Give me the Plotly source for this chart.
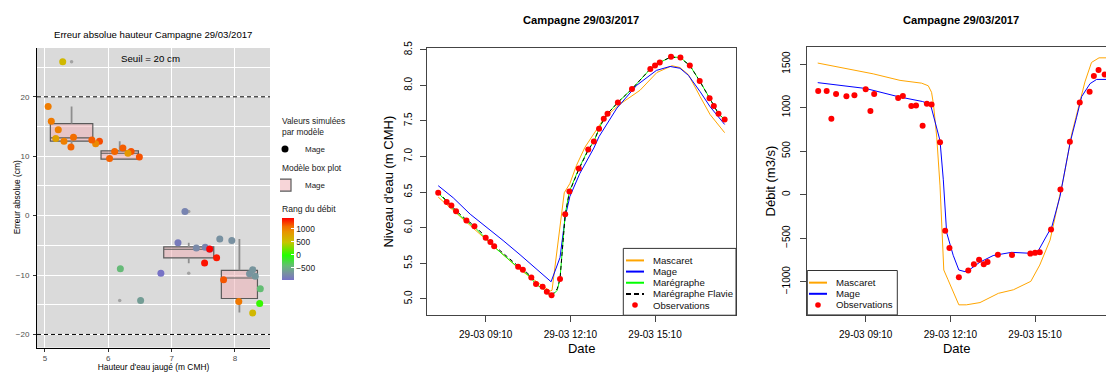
import plotly.graph_objects as go

W, H = 1106, 372
DAY = "2017-03-29 "
FONT = "Liberation Sans, Arial, sans-serif"

# ---------------- observations (campagne du 29/03/2017) ----------------
obs_time = ["07:29", "07:47", "07:57", "08:07", "08:29", "08:46", "09:10", "09:20",
            "09:28", "10:19", "10:29", "10:47", "10:57", "11:11", "11:20", "11:30",
            "11:48", "11:59", "12:08", "12:28", "12:48", "13:00", "13:11", "13:21",
            "13:29", "13:51", "14:21", "15:00", "15:10", "15:20", "15:44", "16:04",
            "16:24", "16:45", "17:06", "17:15", "17:25", "17:38"]
obs_height = [6.49, 6.36, 6.31, 6.23, 6.10, 6.02, 5.86, 5.80, 5.74, 5.45, 5.41, 5.30,
              5.21, 5.17, 5.10, 5.05, 5.28, 6.19, 6.51, 6.83, 7.10, 7.21, 7.39, 7.53,
              7.60, 7.76, 7.95, 8.23, 8.28, 8.32, 8.40, 8.39, 8.28, 8.06, 7.82, 7.71,
              7.60, 7.52]
obs_discharge = [1189, 1189, 871, 1155, 1129, 1140, 1211, 961, 1155, 1110, 1133, 1017,
                 1024, 792, 1043, 1035, 601, -415, -613, -950, -871, -800, -747, -800,
                 -773, -691, -695, -677, -669, -661, -400, 59, 608, 1057, 1181, 1361,
                 1432, 1380]
# Mage - observation, in cm, at each observation time
mage_error_cm = [9.85, 10.8, 10.5, 11.4, 10.8, 9.6, 12.5, 12.1, 12.75, 13.2, 11.55, 12.5,
                 14.45, 13.0, 15.9, 18.35, 25.9, -8.95, -14.3, -9.7, -4.56, 0.7, -5.44,
                 -5.33, -5.66, -3.95, -4.2, -9.77, -9.1, -10.2, -12.3, -14.8, -16.4,
                 -14.45, -10.8, -7.1, -5.6, -7.97]

# ---------------- box plot statistics (Mage) ----------------
box_pos = [5.42, 6.18, 7.27, 8.07]
box_width = [0.67, 0.59, 0.79, 0.57]
box_q1 = [12.55, 9.5, -7.1, -13.95]
box_median = [13.1, 10.5, -5.66, -10.5]
box_q3 = [15.5, 10.9, -5.27, -9.2]
box_low = [11.6, 9.5, -8.0, -16.3]
box_high = [18.35, 12.5, -4.56, -3.95]
outlier_pos = [5.42, 6.18, 7.27, 7.27]
outlier_err = [25.9, -14.3, 0.7, -9.7]

# ---------------- simulated water levels (m CMH) ----------------
mascaret_h_time = ["07:29", "09:12", "10:23", "11:05", "11:27", "11:31", "11:57", "12:09",
                   "12:23", "12:41", "12:59", "13:20", "13:52", "14:38", "15:14", "15:46",
                   "16:03", "16:21", "16:46", "17:07", "17:38"]
mascaret_h = [6.43, 5.82, 5.41, 5.21, 5.11, 5.12, 6.49, 6.62, 6.875, 7.13, 7.31, 7.52,
              7.72, 7.93, 8.18, 8.275, 8.25, 8.15, 7.84, 7.59, 7.335]

mage_h_time = ["07:29", "08:01", "08:37", "09:12", "09:47", "10:23", "10:58", "11:20",
               "11:29", "11:48", "11:59", "12:09", "12:30", "13:00", "13:11", "13:49",
               "14:31", "15:13", "15:42", "16:03", "16:21", "16:46", "17:07", "17:38"]
mage_h = [6.59, 6.42, 6.19, 6.01, 5.82, 5.62, 5.42, 5.29, 5.24, 5.58, 6.15, 6.44, 6.76,
          7.12, 7.28, 7.68, 8.00, 8.21, 8.265, 8.24, 8.14, 7.91, 7.70, 7.45]

maregraphe_time = ["07:29", "07:47", "07:57", "08:07", "08:29", "08:46", "09:10", "09:20",
                   "09:28", "10:19", "10:29", "10:47", "10:57", "11:11", "11:20", "11:30",
                   "11:42", "11:48", "11:59", "12:08", "12:28", "12:48", "13:00", "13:11",
                   "13:21", "13:29", "13:51", "14:21", "15:00", "15:10", "15:20", "15:44",
                   "16:04", "16:24", "16:45", "17:06", "17:15", "17:25", "17:38"]
maregraphe_h = [6.49, 6.36, 6.30, 6.22, 6.09, 6.01, 5.85, 5.79, 5.73, 5.44, 5.40, 5.29,
                5.20, 5.15, 5.08, 5.04, 5.12, 5.28, 6.19, 6.51, 6.83, 7.10, 7.21, 7.39,
                7.53, 7.60, 7.76, 7.95, 8.23, 8.28, 8.32, 8.40, 8.39, 8.28, 8.06, 7.82,
                7.71, 7.60, 7.52]
flavie_h = [6.50, 6.37, 6.31, 6.24, 6.11, 6.03, 5.87, 5.81, 5.75, 5.46, 5.42, 5.31,
            5.22, 5.17, 5.10, 5.05, 5.14, 5.28, 6.18, 6.50, 6.82, 7.09, 7.21, 7.39,
            7.52, 7.60, 7.76, 7.95, 8.23, 8.28, 8.32, 8.40, 8.38, 8.28, 8.06, 7.82,
            7.71, 7.60, 7.52]

# ---------------- simulated discharge (m3/s) ----------------
mascaret_q_time = ["07:28", "08:16", "09:26", "10:23", "11:09", "11:23", "11:30", "11:34",
                   "11:41", "11:48", "11:52", "11:56", "12:05", "12:28", "12:44", "13:13",
                   "13:52", "14:24", "15:01", "15:20", "15:42", "16:03", "16:10", "16:28",
                   "16:46", "16:56", "17:10", "17:26", "17:41"]
mascaret_q = [1511, 1462, 1387, 1312, 1280, 1250, 1175, 1040, 660, 100, -390, -866, -978,
              -1266, -1266, -1240, -1134, -1093, -996, -809, -522, -22, 173, 697, 1069,
              1294, 1518, 1571, 1571]

mage_q_time = ["07:28", "09:10", "10:19", "11:11", "11:28", "11:48", "11:55", "12:02",
               "12:16", "12:28", "12:41", "12:52", "13:13", "13:41", "14:20", "15:00",
               "15:17", "15:46", "16:03", "16:25", "16:38", "16:49", "17:07", "17:21",
               "17:41"]
mage_q = [1286, 1219, 1125, 1069, 1031, 619, 170, -435, -697, -866, -885, -858, -775,
          -700, -663, -674, -644, -363, -22, 608, 882, 1125, 1275, 1323, 1323]

date_ticks = ["09:10", "12:10", "15:10"]
level_ticks = [5.0, 5.5, 6.0, 6.5, 7.0, 7.5, 8.0, 8.5]
discharge_ticks = [-1000, -500, 0, 500, 1000, 1500]
error_ticks = [-20, -10, 0, 10, 20]
height_ticks = [5, 6, 7, 8]
rank_ticks = [-500, 0, 500, 1000]

level_legend = ["Mascaret", "Mage", "Marégraphe", "Marégraphe Flavie", "Observations"]
discharge_legend = ["Mascaret", "Mage", "Observations"]

COLORS = {"Mascaret": "#FFA500", "Mage": "#0000FF", "Marégraphe": "#00FF00",
          "Marégraphe Flavie": "black", "Observations": "#FF0000"}


def stamp(times):
    return [DAY + t for t in times]


def px_x(p):
    return p / W


def px_y(p):
    return 1 - p / H


rank_scale = [[0.0, "#7772c6"], [0.105, "#7990a2"], [0.227, "#66bb77"],
              [0.399, "#22ff00"], [0.609, "#c8c400"], [0.777, "#e89400"],
              [0.861, "#f27000"], [1.0, "#ff0000"]]

fig = go.Figure()

# ---------------- panel 1 : absolute error ----------------
# whiskers (drawn under the boxes, lighter grey like ggplot's)
wx, wy = [], []
for i in range(len(box_pos)):
    wx += [box_pos[i], box_pos[i], None, box_pos[i], box_pos[i], None]
    wy += [box_q3[i], box_high[i], None, box_low[i], box_q1[i], None]
fig.add_trace(go.Scatter(x=wx, y=wy, mode="lines", showlegend=False, hoverinfo="skip",
                         line=dict(color="#8e8e8e", width=1.8), xaxis="x", yaxis="y"))

for i in range(len(box_pos)):
    fig.add_trace(go.Box(
        x=[box_pos[i]], q1=[box_q1[i]], median=[box_median[i]], q3=[box_q3[i]],
        lowerfence=[box_q1[i]], upperfence=[box_q3[i]], width=box_width[i],
        fillcolor="rgba(240,178,184,0.55)", line=dict(color="#5a5a5a", width=1.2),
        whiskerwidth=0, boxpoints=False, name="Mage", legendgroup="box",
        showlegend=(i == 0), legend="legend2", xaxis="x", yaxis="y", hoverinfo="skip"))

fig.add_trace(go.Scatter(
    x=outlier_pos, y=outlier_err, mode="markers", showlegend=False,
    marker=dict(size=3.5, color="#a3a3a3"), xaxis="x", yaxis="y"))

fig.add_trace(go.Scatter(
    x=obs_height, y=mage_error_cm, mode="markers", showlegend=False,
    marker=dict(size=7, color=obs_discharge, colorscale=rank_scale, cmin=-950, cmax=1432,
                colorbar=dict(
                    title=dict(text="Rang du débit", side="top",
                               font=dict(size=8.6, color="#1a1a1a", family=FONT)),
                    x=px_x(282), xanchor="left", xpad=0,
                    y=px_y(200), yanchor="top", ypad=0,
                    len=77, lenmode="pixels", thickness=12, thicknessmode="pixels",
                    tickvals=rank_ticks, ticks="inside", ticklen=3, tickcolor="white",
                    tickfont=dict(size=8.4, color="#1a1a1a", family=FONT),
                    outlinewidth=0)),
    xaxis="x", yaxis="y"))

fig.add_trace(go.Scatter(
    x=[None], y=[None], mode="markers", name="Mage", legend="legend",
    marker=dict(size=7, color="black"), xaxis="x", yaxis="y"))

# ---------------- panel 2 : water level ----------------
fig.add_trace(go.Scatter(x=stamp(mascaret_h_time), y=mascaret_h, mode="lines", name="Mascaret",
                         line=dict(color=COLORS["Mascaret"], width=1), showlegend=False,
                         xaxis="x2", yaxis="y2"))
fig.add_trace(go.Scatter(x=stamp(mage_h_time), y=mage_h, mode="lines", name="Mage",
                         line=dict(color=COLORS["Mage"], width=1), showlegend=False,
                         xaxis="x2", yaxis="y2"))
fig.add_trace(go.Scatter(x=stamp(maregraphe_time), y=maregraphe_h, mode="lines",
                         name="Marégraphe", line=dict(color=COLORS["Marégraphe"], width=1),
                         showlegend=False, xaxis="x2", yaxis="y2"))
fig.add_trace(go.Scatter(x=stamp(maregraphe_time), y=flavie_h, mode="lines",
                         name="Marégraphe Flavie",
                         line=dict(color="black", width=1, dash="4px,3px"),
                         showlegend=False, xaxis="x2", yaxis="y2"))
fig.add_trace(go.Scatter(x=stamp(obs_time), y=obs_height, mode="markers", name="Observations",
                         marker=dict(color=COLORS["Observations"], size=6), showlegend=False,
                         xaxis="x2", yaxis="y2"))

# ---------------- panel 3 : discharge ----------------
fig.add_trace(go.Scatter(x=stamp(mascaret_q_time), y=mascaret_q, mode="lines", name="Mascaret",
                         line=dict(color=COLORS["Mascaret"], width=1), showlegend=False,
                         xaxis="x3", yaxis="y3"))
fig.add_trace(go.Scatter(x=stamp(mage_q_time), y=mage_q, mode="lines", name="Mage",
                         line=dict(color=COLORS["Mage"], width=1), showlegend=False,
                         xaxis="x3", yaxis="y3"))
fig.add_trace(go.Scatter(x=stamp(obs_time), y=obs_discharge, mode="markers",
                         name="Observations", marker=dict(color=COLORS["Observations"], size=6),
                         showlegend=False, xaxis="x3", yaxis="y3"))


# ---------------- base-graphics style framed legends ----------------
def framed_legend(labels, box, first_row, key_x, text_x, row_step=11.4):
    """Bordered legend box with short line keys / dots, in pixel layout units."""
    left, top, right, bottom = box
    shapes = [dict(type="rect", xref="paper", yref="paper",
                   x0=px_x(left), x1=px_x(right), y0=px_y(bottom), y1=px_y(top),
                   fillcolor="white", line=dict(color="#333", width=1), layer="above")]
    notes = []
    for k, label in enumerate(labels):
        cy = first_row + k * row_step
        if label == "Observations":
            r = 2.8
            cx = (key_x[0] + key_x[1]) / 2
            shapes.append(dict(type="circle", xref="paper", yref="paper",
                               x0=px_x(cx - r), x1=px_x(cx + r),
                               y0=px_y(cy + r), y1=px_y(cy - r),
                               fillcolor=COLORS[label], line=dict(width=0), layer="above"))
        else:
            dash = "5px,3px" if label == "Marégraphe Flavie" else "solid"
            shapes.append(dict(type="line", xref="paper", yref="paper",
                               x0=px_x(key_x[0]), x1=px_x(key_x[1]),
                               y0=px_y(cy), y1=px_y(cy), layer="above",
                               line=dict(color=COLORS[label], width=2, dash=dash)))
        notes.append(dict(text=label, xref="paper", yref="paper", x=px_x(text_x),
                          y=px_y(cy), xanchor="left", yanchor="middle", showarrow=False,
                          font=dict(size=9.6, family=FONT, color="#111")))
    return shapes, notes


lvl_shapes, lvl_notes = framed_legend(level_legend, (623.3, 246.7, 736, 315), 259,
                                      (626, 644), 651)
dis_shapes, dis_notes = framed_legend(discharge_legend, (807.3, 269.3, 897.3, 314.7), 281.7,
                                      (809, 827), 834)

tick_font_r = dict(family=FONT, size=10, color="black")
title_font_r = dict(family=FONT, size=13, color="black")
gg_tick = dict(family=FONT, size=8, color="#4d4d4d")
gg_title = dict(family=FONT, size=8.4, color="black")

r_xaxis = dict(type="date", tickvals=stamp(date_ticks), tickformat="%d-%m %H:%M",
               showline=True, linecolor="#444", linewidth=1, ticks="outside", ticklen=6,
               tickcolor="#444", showgrid=False, zeroline=False, tickfont=tick_font_r,
               ticklabelstandoff=4)

fig.update_layout(
    width=W, height=H, margin=dict(l=0, r=0, t=0, b=0),
    paper_bgcolor="white", plot_bgcolor="rgba(0,0,0,0)",
    font=dict(family=FONT, color="black"),
    xaxis=dict(domain=[px_x(37), px_x(270)], anchor="y", range=[4.874, 8.553],
               tickvals=height_ticks, showgrid=True, gridcolor="white", gridwidth=1.1,
               showline=True, linecolor="black", linewidth=1, ticks="outside", ticklen=3,
               tickcolor="#333", zeroline=False, tickfont=gg_tick,
               title=dict(text="Hauteur d'eau jaugé (m CMH)", font=gg_title, standoff=3)),
    yaxis=dict(domain=[px_y(348), px_y(42)], anchor="x", range=[-22.2, 28.2],
               tickvals=error_ticks, showgrid=True, gridcolor="white", gridwidth=1.1,
               minor=dict(tickvals=[-15, -5, 5, 15, 25], showgrid=True, gridcolor="white",
                          gridwidth=0.5),
               showline=True, linecolor="black", linewidth=1, ticks="outside", ticklen=3,
               tickcolor="#333", zeroline=False, tickfont=gg_tick, ticklabelstandoff=2),
    xaxis2=dict(r_xaxis, domain=[px_x(427.3), px_x(736)], anchor="y2",
                range=[DAY + "07:05:50", DAY + "18:02:10"], mirror=True,
                title=dict(text="Date", font=title_font_r, standoff=4)),
    yaxis2=dict(domain=[px_y(315), px_y(42)], anchor="x2", range=[4.77, 8.523],
                tickvals=level_ticks, tickformat=".1f", tickangle=-90,
                showline=True, linecolor="#444", linewidth=1, mirror=True, ticks="outside",
                ticklen=6, tickcolor="#444", showgrid=False, zeroline=False,
                tickfont=tick_font_r, ticklabelstandoff=4,
                title=dict(text="Niveau d'eau (m CMH)", font=title_font_r, standoff=6)),
    xaxis3=dict(r_xaxis, domain=[px_x(807.3), 1.0], anchor="y3",
                range=[DAY + "07:05:50", DAY + "17:40:50"], mirror=True,
                title=dict(text="Date", font=title_font_r, standoff=4)),
    yaxis3=dict(domain=[px_y(314.7), px_y(41)], anchor="x3", range=[-1382, 1694],
                tickvals=discharge_ticks, tickangle=-90,
                showline=True, linecolor="#444", linewidth=1, mirror=False, ticks="outside",
                ticklen=6, tickcolor="#444", showgrid=False, zeroline=False,
                tickfont=tick_font_r, ticklabelstandoff=6,
                title=dict(text="Débit (m3/s)", font=title_font_r, standoff=2)),
    legend=dict(x=px_x(280), y=px_y(108), xanchor="left", yanchor="top",
                title=dict(text="Valeurs simulées<br>par modèle",
                           font=dict(size=8.4, family=FONT, color="#1a1a1a")),
                font=dict(size=8, family=FONT, color="#1a1a1a"), bgcolor="rgba(0,0,0,0)",
                itemwidth=30, indentation=-15),
    legend2=dict(x=px_x(280), y=px_y(156), xanchor="left", yanchor="top",
                 title=dict(text="Modèle box plot",
                            font=dict(size=8.4, family=FONT, color="#1a1a1a")),
                 font=dict(size=8, family=FONT, color="#1a1a1a"), bgcolor="rgba(0,0,0,0)",
                 itemwidth=30, indentation=-15),
    shapes=[
        dict(type="rect", xref="x domain", yref="y domain", x0=0, x1=1, y0=0, y1=1,
             fillcolor="#dadada", line=dict(width=0), layer="below"),
        dict(type="line", xref="x domain", yref="y", x0=0, x1=1, y0=20, y1=20,
             line=dict(color="black", width=1, dash="4px,3px")),
        dict(type="line", xref="x domain", yref="y", x0=0, x1=1, y0=-20, y1=-20,
             line=dict(color="black", width=1, dash="4px,3px")),
    ] + lvl_shapes + dis_shapes,
    annotations=[
        dict(text="Erreur absolue (cm)", xref="paper", yref="paper",
             x=px_x(16.5), y=px_y(195), xanchor="center", yanchor="middle", textangle=-90,
             showarrow=False, font=gg_title),
        dict(text="Erreur absolue hauteur Campagne 29/03/2017", xref="paper", yref="paper",
             x=px_x(153), y=px_y(28), xanchor="center", yanchor="middle", showarrow=False,
             font=dict(size=9.6, family=FONT, color="black")),
        dict(text="Seuil = 20 cm", xref="x", yref="y", x=6.66, y=26.5, xanchor="center",
             yanchor="middle", showarrow=False,
             font=dict(size=9.7, family=FONT, color="black")),
        dict(text="<b>Campagne 29/03/2017</b>", xref="paper", yref="paper",
             x=px_x(581), y=px_y(13.5), xanchor="center", yanchor="middle", showarrow=False,
             font=dict(size=11.2, family=FONT, color="black")),
        dict(text="<b>Campagne 29/03/2017</b>", xref="paper", yref="paper",
             x=px_x(961), y=px_y(13.5), xanchor="center", yanchor="middle", showarrow=False,
             font=dict(size=11.2, family=FONT, color="black")),
    ] + lvl_notes + dis_notes,
)

fig.write_html("out.html")
